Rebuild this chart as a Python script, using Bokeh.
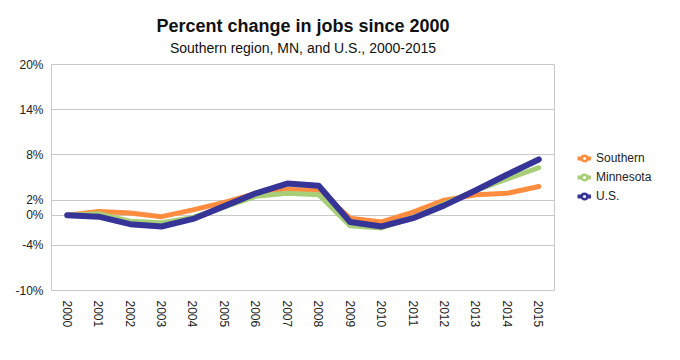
from bokeh.plotting import figure
from bokeh.layouts import row
from bokeh.models import (ColumnDataSource, FixedTicker, Legend, LegendItem, Title,
                          CustomJSTickFormatter, FactorRange, Range1d)
from bokeh.embed import file_html
from bokeh.resources import INLINE

years = [str(y) for y in range(2000, 2016)]
southern = [0, 0.5, 0.3, -0.2, 0.7, 1.7, 2.9, 3.4, 3.3, -0.4, -0.9, 0.4, 2.0, 2.7, 2.9, 3.8]
minnesota = [0, 0.2, -0.8, -1.0, -0.3, 1.1, 2.5, 2.9, 2.7, -1.4, -1.7, -0.3, 1.5, 3.3, 4.8, 6.3]
us = [0, -0.2, -1.2, -1.5, -0.5, 1.2, 2.9, 4.2, 3.9, -0.9, -1.5, -0.4, 1.3, 3.3, 5.4, 7.4]
y_ticks = [-10, -4, 0, 2, 8, 14, 20]

series = [("Southern", southern, "#ff8c3f", 5),
          ("Minnesota", minnesota, "#a8cf78", 5),
          ("U.S.", us, "#363597", 6)]

p = figure(width=556, height=352, output_backend="svg", toolbar_location=None,
           x_range=FactorRange(*years), y_range=Range1d(-10, 20),
           min_border_left=51, min_border_top=64, min_border_bottom=62,
           min_border_right=2)
p.outline_line_color = "#c8c8c8"
p.xgrid.grid_line_color = None
p.ygrid.grid_line_color = "#c8c8c8"
p.ygrid.ticker = FixedTicker(ticks=y_ticks)

p.yaxis.ticker = FixedTicker(ticks=y_ticks)
p.yaxis.formatter = CustomJSTickFormatter(code="return tick + '%';")
for ax in (p.xaxis[0], p.yaxis[0]):
    ax.axis_line_color = None
    ax.major_tick_line_color = None
    ax.minor_tick_line_color = None
    ax.major_tick_out = 0
    ax.major_tick_in = 0
    ax.major_label_text_font = "Liberation Sans"
    ax.major_label_text_font_size = "12px"
    ax.major_label_text_color = "#222222"
p.yaxis.major_label_standoff = 8
p.xaxis.major_label_standoff = 10
p.xaxis.major_label_orientation = "vertical"

for name, vals, color, lw in series:
    src = ColumnDataSource(dict(x=years, y=vals))
    p.line("x", "y", source=src, line_color=color, line_width=lw,
           line_join="round", line_cap="round")

p.add_layout(Title(text="Southern region, MN, and U.S., 2000-2015", align="center",
                   standoff=18, text_font="Liberation Sans",
                   text_font_style="normal", text_font_size="14px",
                   text_color="#111111"), "above")
p.add_layout(Title(text="Percent change in jobs since 2000", align="center",
                   standoff=-15, text_font="Liberation Sans",
                   text_font_style="bold", text_font_size="18px",
                   text_color="#111111"), "above")

# legend panel (same series; its ranges keep the lines out of view)
lg = figure(width=116, height=352, output_backend="svg", toolbar_location=None,
            x_range=FactorRange(*years), y_range=Range1d(1000, 1001),
            x_axis_type=None, y_axis_type=None, min_border=0)
lg.outline_line_color = None
items = []
for name, vals, color, lw in series:
    src = ColumnDataSource(dict(x=years, y=vals))
    r = lg.line("x", "y", source=src, line_color=color, line_width=4)
    m = lg.scatter("x", "y", source=src, size=0, line_color=color, line_width=2.5,
                   fill_color="white")
    items.append(LegendItem(label=name, renderers=[r, m]))
legend = Legend(items=items, location=(21, 86), margin=0, padding=0,
                glyph_width=14, glyph_height=16, label_height=16, spacing=3,
                label_standoff=5, label_text_font="Liberation Sans",
                label_text_font_size="12px", label_text_color="#222222",
                border_line_color=None, background_fill_alpha=0)
lg.add_layout(legend, "center")

open("out.html", "w").write(file_html(row(p, lg), INLINE))
